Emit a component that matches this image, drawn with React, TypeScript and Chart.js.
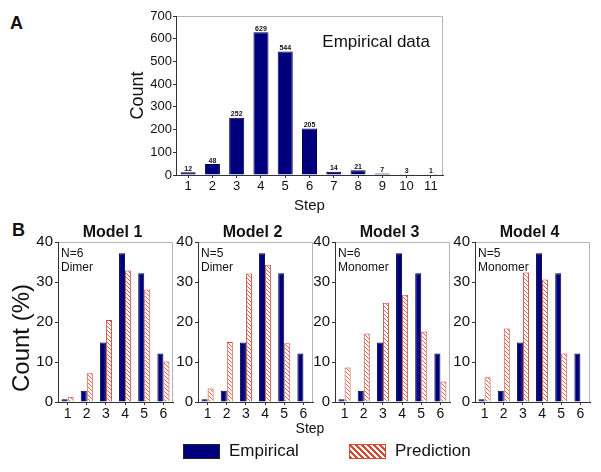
import React, { useEffect, useRef } from 'react';
import { Chart, registerables } from 'chart.js';

Chart.register(...registerables);

const FONT = '"Liberation Sans", Arial, Helvetica, sans-serif';
Chart.defaults.font.family = FONT;
Chart.defaults.color = '#111';

// ---------- Panel A data ----------
const stepsA = ['1', '2', '3', '4', '5', '6', '7', '8', '9', '10', '11'];
const countsA = [12, 48, 252, 629, 544, 205, 14, 21, 7, 3, 1];
const yMaxA = 700;
const yStepA = 100;

// ---------- Panel B data ----------
const stepsB = ['1', '2', '3', '4', '5', '6'];
const empiricalPct = [0.7, 2.8, 14.9, 37.2, 32.2, 12.1];
const model1Pred = [1.3, 7.2, 20.5, 32.9, 28.1, 10.1];
const model2Pred = [3.4, 15.0, 32.1, 34.3, 14.7, 0.3];
const model3Pred = [8.6, 17.1, 24.8, 26.8, 17.6, 5.1];
const model4Pred = [6.2, 18.4, 32.4, 30.6, 12.1, 0];
const modelTitles = ['Model 1', 'Model 2', 'Model 3', 'Model 4'];
const modelNotes = [
  ['N=6', 'Dimer'],
  ['N=5', 'Dimer'],
  ['N=6', 'Monomer'],
  ['N=5', 'Monomer'],
];
const modelPreds = [model1Pred, model2Pred, model3Pred, model4Pred];
const yMaxB = 40;
const yStepB = 10;

const NAVY = '#00007f';
const NAVY_EDGE = '#000040';
const HATCH = '#d8482c';
const HATCH_BAR = '#e0604c';

function makeHatch(): CanvasPattern | string {
  const s = 4;
  const c = document.createElement('canvas');
  c.width = s;
  c.height = s;
  const g = c.getContext('2d');
  if (!g) return '#fff';
  g.fillStyle = '#ffffff';
  g.fillRect(0, 0, s, s);
  g.strokeStyle = HATCH_BAR;
  g.lineWidth = 1;
  g.beginPath();
  g.moveTo(0, 0);
  g.lineTo(s, s);
  g.moveTo(-1, s - 1);
  g.lineTo(1, s + 1);
  g.moveTo(s - 1, -1);
  g.lineTo(s + 1, 1);
  g.stroke();
  return g.createPattern(c, 'repeat') || '#fff';
}

const decor = {
  id: 'decor',
  afterDraw(chart: any, _args: any, opts: any) {
    const { ctx, chartArea: a } = chart;
    ctx.save();
    ctx.strokeStyle = '#b4b4b4';
    ctx.lineWidth = 1;
    ctx.beginPath();
    ctx.moveTo(a.left + 1, a.top + 0.5);
    ctx.lineTo(a.right - 0.5, a.top + 0.5);
    ctx.lineTo(a.right - 0.5, a.bottom);
    ctx.stroke();
    ctx.fillStyle = '#111';
    ctx.textBaseline = 'alphabetic';
    if (opts.title) {
      ctx.font = `bold 16px ${FONT}`;
      ctx.textAlign = 'center';
      ctx.fillText(opts.title, (a.left + a.right) / 2 - 3, a.top - 5);
    }
    if (opts.notes) {
      ctx.font = `12px ${FONT}`;
      ctx.textAlign = 'left';
      opts.notes.forEach((t: string, i: number) => ctx.fillText(t, a.left + 3, a.top + 15 + i * 14));
    }
    if (opts.corner) {
      ctx.font = `17px ${FONT}`;
      ctx.textAlign = 'right';
      ctx.fillText(opts.corner, a.right - 13, a.top + 31);
    }
    if (opts.sideTitle) {
      ctx.save();
      ctx.font = `24px ${FONT}`;
      ctx.textAlign = 'center';
      ctx.textBaseline = 'middle';
      ctx.translate(opts.sideTitle.x, (a.top + a.bottom) / 2 + opts.sideTitle.dy);
      ctx.rotate(-Math.PI / 2);
      ctx.fillText(opts.sideTitle.text, 0, 0);
      ctx.restore();
    }
    if (opts.valueLabels) {
      const meta = chart.getDatasetMeta(0);
      const vals = chart.data.datasets[0].data;
      ctx.font = `bold 7px ${FONT}`;
      ctx.textAlign = 'center';
      meta.data.forEach((el: any, i: number) => ctx.fillText(String(vals[i]), el.x, el.y - 1.5));
    }
    ctx.restore();
  },
};

function axisCommon() {
  return {
    border: { display: true, color: '#333', width: 1 },
    grid: { drawOnChartArea: false, drawTicks: true, tickLength: 3, color: '#333' },
  };
}

function buildA(): any {
  return {
    type: 'bar',
    data: {
      labels: stepsA,
      datasets: [
        {
          data: countsA,
          backgroundColor: NAVY,
          borderColor: NAVY_EDGE,
          borderWidth: 1,
          barPercentage: 0.62,
          categoryPercentage: 1,
        },
      ],
    },
    plugins: [decor],
    options: {
      responsive: false,
      animation: false,
      layout: { padding: { left: 0, top: 10, right: 17, bottom: 0 } },
      plugins: {
        legend: { display: false },
        tooltip: { enabled: false },
        decor: { corner: 'Empirical data', valueLabels: true },
      },
      scales: {
        x: {
          ...axisCommon(),
          grid: { ...axisCommon().grid, offset: false },
          ticks: { font: { size: 13 }, padding: 1, color: '#111', maxRotation: 0, autoSkip: false },
          title: { display: true, text: 'Step', font: { size: 15 }, padding: { top: 0, bottom: 5 }, color: '#111' },
          afterFit: (s: any) => {
            s.height = 45;
          },
        },
        y: {
          ...axisCommon(),
          min: 0,
          max: yMaxA,
          ticks: { stepSize: yStepA, font: { size: 13 }, padding: 1, color: '#111' },
          title: { display: true, text: 'Count', font: { size: 18 }, padding: { top: 27, bottom: 0 }, color: '#111' },
          afterFit: (s: any) => {
            s.width = 76;
          },
        },
      },
    },
  };
}

function buildB(idx: number, hatch: any, yWidth: number): any {
  const first = idx === 0;
  return {
    type: 'bar',
    data: {
      labels: stepsB,
      datasets: [
        {
          label: 'Empirical',
          data: empiricalPct,
          backgroundColor: NAVY,
          borderColor: NAVY_EDGE,
          borderWidth: 1,
          barPercentage: 1,
          categoryPercentage: 0.63,
        },
        {
          label: 'Prediction',
          data: modelPreds[idx],
          backgroundColor: hatch,
          borderColor: '#c84a3c',
          borderWidth: 1,
          barPercentage: 1,
          categoryPercentage: 0.63,
        },
      ],
    },
    plugins: [decor],
    options: {
      responsive: false,
      animation: false,
      layout: { padding: { left: 0, top: 27, right: 3, bottom: 0 } },
      plugins: {
        legend: { display: false },
        tooltip: { enabled: false },
        decor: {
          title: modelTitles[idx],
          notes: modelNotes[idx],
          sideTitle: first ? { text: 'Count (%)', x: 22, dy: 16 } : null,
        },
      },
      scales: {
        x: {
          ...axisCommon(),
          grid: { ...axisCommon().grid, offset: false },
          ticks: { font: { size: 14 }, padding: 1, color: '#111', maxRotation: 0, autoSkip: false },
          afterFit: (s: any) => {
            s.height = 28;
          },
        },
        y: {
          ...axisCommon(),
          min: 0,
          max: yMaxB,
          ticks: { stepSize: yStepB, font: { size: 15 }, padding: 2, color: '#111' },
          afterFit: (s: any) => {
            s.width = yWidth;
          },
        },
      },
    },
  };
}

function ChartBox(props: { left: number; top: number; width: number; height: number; build: () => any }) {
  const ref = useRef<HTMLCanvasElement | null>(null);
  useEffect(() => {
    if (!ref.current) return;
    const chart = new Chart(ref.current, props.build());
    return () => chart.destroy();
  }, []);
  return (
    <canvas
      ref={ref}
      width={props.width}
      height={props.height}
      style={{ position: 'absolute', left: props.left, top: props.top, width: props.width, height: props.height }}
    />
  );
}

const bLefts = [58, 198, 335, 475];
const bPlotWidth = 115;

export default function App() {
  const hatchRef = useRef<any>(null);
  if (!hatchRef.current && typeof document !== 'undefined') hatchRef.current = makeHatch();
  const txt: React.CSSProperties = { position: 'absolute', fontFamily: FONT, color: '#111', whiteSpace: 'nowrap' };
  return (
    <div style={{ position: 'fixed', left: 0, top: 0, width: 601, height: 472, background: '#fff', overflow: 'hidden' }}>
      <div style={{ ...txt, left: 10, top: 14, fontSize: 18, lineHeight: '18px', fontWeight: 'bold' }}>A</div>
      <div style={{ ...txt, left: 12, top: 221, fontSize: 18, lineHeight: '18px', fontWeight: 'bold' }}>B</div>
      <ChartBox left={100} top={6} width={360} height={214} build={buildA} />
      {bLefts.map((cl, i) => {
        const yW = i === 0 ? 58 : 30;
        const left = cl - yW;
        const width = yW + bPlotWidth + 3;
        return (
          <ChartBox
            key={i}
            left={left}
            top={215}
            width={width}
            height={215}
            build={() => buildB(i, hatchRef.current, yW)}
          />
        );
      })}
      <div style={{ ...txt, left: 280, width: 60, textAlign: 'center', top: 421, fontSize: 14, lineHeight: '14px' }}>Step</div>
      <div
        style={{
          position: 'absolute',
          left: 183,
          top: 444,
          width: 37,
          height: 15,
          background: NAVY,
          border: '1px solid #222',
          boxSizing: 'border-box',
        }}
      />
      <div style={{ ...txt, left: 229, top: 442, fontSize: 17, lineHeight: '17px' }}>Empirical</div>
      <div
        style={{
          position: 'absolute',
          left: 349,
          top: 444,
          width: 37,
          height: 15,
          background: `repeating-linear-gradient(45deg, ${HATCH} 0px, ${HATCH} 2px, #fff 2px, #fff 4.2px)`,
          border: `1px solid ${HATCH}`,
          boxSizing: 'border-box',
        }}
      />
      <div style={{ ...txt, left: 395, top: 442, fontSize: 17, lineHeight: '17px' }}>Prediction</div>
    </div>
  );
}
